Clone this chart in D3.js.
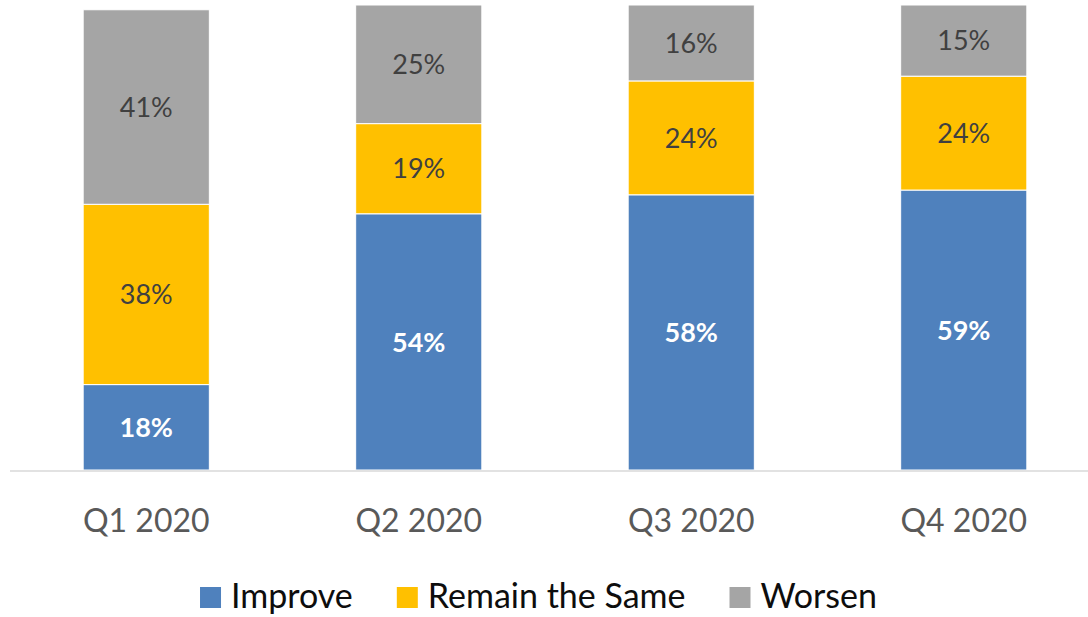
<!DOCTYPE html>
<html>
<head>
<meta charset="utf-8">
<script src="https://cdn.jsdelivr.net/npm/d3@7"></script>
<style>
  html, body { margin: 0; padding: 0; background: #fff; }
  svg { display: block; font-family: Lato, "Open Sans", sans-serif; }
</style>
</head>
<body>
<svg id="chart" width="1088" height="617"></svg>
<script>
// Survey outlook by quarter (percent of respondents)
const quarters = ["Q1 2020", "Q2 2020", "Q3 2020", "Q4 2020"];
const seriesNames = ["Improve", "Remain the Same", "Worsen"];
const improve = [18, 54, 58, 59];
const remainSame = [38, 19, 24, 24];
const worsen = [41, 25, 16, 15];
const colors = ["#4F81BD", "#FFC000", "#A5A5A5"];

const rows = quarters.map((q, i) => ({
  quarter: q,
  "Improve": improve[i],
  "Remain the Same": remainSame[i],
  "Worsen": worsen[i]
}));

const svg = d3.select("#chart");
const baseY = 470, topY = 5;

const x = d3.scaleBand()
  .domain(quarters)
  .range([10, 1100])
  .paddingInner(0.537)
  .paddingOuter(0.2685);

const stack = d3.stack().keys(seriesNames);
const layers = stack(rows);
const maxTotal = d3.max(layers[layers.length - 1], d => d[1]);

const y = d3.scaleLinear().domain([0, maxTotal]).range([baseY, topY]);

// stacked segments
const g = svg.append("g");
layers.forEach((layer, li) => {
  g.selectAll(null)
    .data(layer)
    .join("rect")
    .attr("x", d => x(d.data.quarter))
    .attr("width", x.bandwidth())
    .attr("y", d => y(d[1]))
    .attr("height", d => y(d[0]) - y(d[1]))
    .attr("fill", colors[li])
    .attr("stroke", "#fff")
    .attr("stroke-width", 1);
});

// category axis line
svg.append("line")
  .attr("x1", 10).attr("x2", 1088)
  .attr("y1", baseY + 1).attr("y2", baseY + 1)
  .attr("stroke", "#D9D9D9").attr("stroke-width", 1.5);

// segment value labels
layers.forEach((layer, li) => {
  g.selectAll(null)
    .data(layer)
    .join("text")
    .attr("x", d => x(d.data.quarter) + x.bandwidth() / 2)
    .attr("y", d => (y(d[0]) + y(d[1])) / 2)
    .attr("dy", "0.36em")
    .attr("text-anchor", "middle")
    .attr("font-size", 27)
    .attr("font-weight", li === 0 ? 700 : 400)
    .attr("fill", li === 0 ? "#ffffff" : "#404040")
    .text(d => (d[1] - d[0]) + "%");
});

// category labels
const xAxis = d3.axisBottom(x).tickSize(0).tickPadding(0);
const ax = svg.append("g")
  .attr("transform", `translate(0, ${baseY})`)
  .call(xAxis);
ax.select(".domain").remove();
ax.selectAll("text")
  .attr("y", 62)
  .attr("dy", 0)
  .attr("font-family", "Lato, 'Open Sans', sans-serif")
  .attr("font-size", 32)
  .attr("fill", "#595959");

// legend
const legend = svg.append("g");
const items = legend.selectAll("g").data(seriesNames).join("g");
items.append("rect")
  .attr("width", 21).attr("height", 21)
  .attr("y", 587)
  .attr("fill", (d, i) => colors[i]);
items.append("text")
  .attr("x", 31)
  .attr("y", 608)
  .attr("font-size", 34)
  .attr("fill", "#0d0d0d")
  .text(d => d);
let cx = 0;
const offsets = [];
items.each(function () {
  const w = d3.select(this).select("text").node().getComputedTextLength();
  offsets.push(cx);
  cx += 31 + w + 44;
});
const total = cx - 44;
const start = 538.5 - total / 2;
items.attr("transform", (d, i) => `translate(${start + offsets[i]}, 0)`);
</script>
</body>
</html>
